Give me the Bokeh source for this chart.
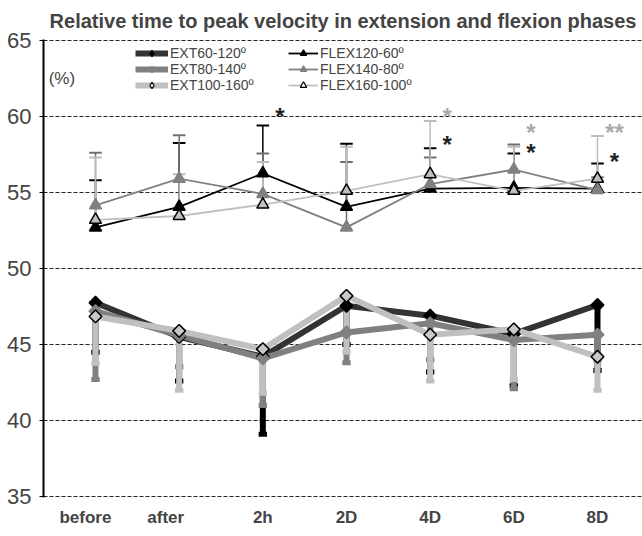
import numpy as np
from bokeh.plotting import figure
from bokeh.models import Range1d, FixedTicker, Legend, LegendItem, Label, ColumnDataSource
from bokeh.embed import file_html
from bokeh.resources import INLINE
from bokeh.core.properties import value

# ---------------- data ----------------
categories = ["before", "after", "2h", "2D", "4D", "6D", "8D"]

ext60_120 = [47.75, 45.5, 44.2, 47.55, 46.9, 45.7, 47.6]
ext60_120_low = [44.5, 42.6, 39.1, 45.0, 43.2, 42.3, 43.3]
ext80_140 = [47.2, 45.6, 44.1, 45.8, 46.4, 45.3, 45.65]
ext80_140_low = [42.7, 43.55, 41.0, 43.8, 44.0, 42.1, 44.0]
ext100_160 = [46.85, 45.9, 44.7, 48.2, 45.65, 46.0, 44.2]
ext100_160_low = [43.75, 42.0, 41.8, 44.5, 42.6, 42.7, 42.0]

flex120_60 = [52.7, 54.05, 56.25, 54.05, 55.25, 55.3, 55.25]
flex120_60_high = [55.8, 58.25, 59.4, 58.2, 57.9, 57.55, 56.9]
flex140_80 = [54.15, 55.9, 54.9, 52.7, 55.55, 56.5, 55.15]
flex140_80_high = [57.6, 58.75, 57.55, 57.0, 57.3, 58.15, 56.0]
flex160_100 = [53.2, 53.45, 54.2, 55.1, 56.2, 55.1, 55.9]
flex160_100_high = [57.3, 56.2, 57.0, 58.0, 59.7, 58.0, 58.7]

star_cat = ["2h", "4D", "4D", "6D", "6D", "8D", "8D"]
star_y = [60.2, 60.2, 58.35, 59.15, 57.85, 59.15, 57.25]
star_text = ["*", "*", "*", "*", "*", "**", "*"]
star_group = ["dark", "light", "dark", "light", "dark", "light", "dark"]

y_ticks = [35, 40, 45, 50, 55, 60, 65]
title_text = "Relative time to peak velocity in extension and flexion phases"

# ---------------- figure ----------------
FONT = "Liberation Sans"
x = np.arange(len(categories))

p = figure(width=642, height=536, output_backend="svg", toolbar_location=None,
           x_range=Range1d(-0.6215, 6.538), y_range=Range1d(34.95, 65.05),
           min_border_left=43, min_border_right=0, min_border_top=39, min_border_bottom=39)
p.outline_line_color = None
p.background_fill_color = "white"
p.border_fill_color = "white"

p.title.text = title_text
p.title.align = "center"
p.title.text_font = FONT
p.title.text_font_style = "bold"
p.title.text_font_size = "20px"
p.title.standoff = 15

# axes (labels of the first two categories sit slightly left, as in the source)
label_pos = [-0.12, 0.84, 2, 3, 4, 5, 6]
p.xaxis.ticker = FixedTicker(ticks=label_pos)
p.xaxis.major_label_overrides = {float(t): c for t, c in zip(label_pos, categories)}
p.xaxis.axis_line_color = None
p.xaxis.major_tick_line_color = None
p.xaxis.minor_tick_line_color = None
p.xaxis.major_label_text_font = FONT
p.xaxis.major_label_text_font_style = "bold"
p.xaxis.major_label_text_font_size = "17px"
p.xaxis.major_label_standoff = 4

p.yaxis.ticker = FixedTicker(ticks=y_ticks)
p.yaxis.axis_line_color = "black"
p.yaxis.axis_line_width = 2
p.yaxis.major_tick_out = 4
p.yaxis.major_tick_in = 0
p.yaxis.major_tick_line_color = "black"
p.yaxis.minor_tick_line_color = None
p.yaxis.major_label_text_font = FONT
p.yaxis.major_label_text_font_size = "22px"
p.yaxis.major_label_standoff = 8

p.xgrid.visible = False
p.ygrid.ticker = FixedTicker(ticks=y_ticks)
p.ygrid.grid_line_color = "#222222"
p.ygrid.grid_line_dash = "4 2"
p.ygrid.grid_line_width = 1

# ---------------- series ----------------
# (name, mean, sd-bound, line colour, marker fill, marker outline, bar colour, legend fill)
ext_series = [
    ("EXT60-120º", ext60_120, ext60_120_low, "#333333", "black", "black", "black", "black"),
    ("EXT80-140º", ext80_140, ext80_140_low, "#808080", "#808080", "#808080", "#808080", "#808080"),
    ("EXT100-160º", ext100_160, ext100_160_low, "#c0c0c0", "#c8c8c8", "black", "#c0c0c0", "white"),
]
flex_series = [
    ("FLEX120-60º", flex120_60, flex120_60_high, "black", "black", "black", "black", "black"),
    ("FLEX140-80º", flex140_80, flex140_80_high, "#808080", "#808080", "#808080", "#707070", "#808080"),
    ("FLEX160-100º", flex160_100, flex160_100_high, "#c0c0c0", "#c0c0c0", "black", "#bdbdbd", "white"),
]

# error bars first
for name, m, lo, lc, fc, oc, ec, lf in ext_series:
    p.segment(x, m, x, lo, line_width=6, line_color=ec, line_cap="butt")
    p.segment(x - 0.05, lo, x + 0.05, lo, line_width=5, line_color=ec, line_cap="butt")
for name, m, hi, lc, fc, oc, ec, lf in flex_series:
    p.segment(x, m, x, hi, line_width=1.5, line_color=ec)
    p.segment(x - 0.075, hi, x + 0.075, hi, line_width=2, line_color=ec)

ext_lines = []
for name, m, lo, lc, fc, oc, ec, lf in ext_series:
    ext_lines.append(p.line(x, m, line_width=6, line_color=lc, line_join="miter"))
for name, m, lo, lc, fc, oc, ec, lf in ext_series:
    p.scatter(x, m, marker="square", angle=np.pi / 4, size=9,
              fill_color=fc, line_color=oc, line_width=1.5)

flex_lines = []
for name, m, hi, lc, fc, oc, ec, lf in flex_series:
    flex_lines.append(p.line(x, m, line_width=1.8, line_color=lc, line_join="miter"))
    p.scatter(x, m, marker="triangle", size=12, fill_color=fc, line_color=oc, line_width=1.5)

# legend-only marker glyphs (a single undefined point, never visible in the plot)
ext_leg_marks = [p.scatter(x=[np.nan], y=[np.nan], marker="diamond", size=15, fill_color=s[7],
                           line_color=s[5], line_width=1.2) for s in ext_series]
flex_leg_marks = [p.scatter(x=[np.nan], y=[np.nan], marker="triangle", size=10, fill_color=s[7],
                            line_color=s[5], line_width=1.2) for s in flex_series]

# significance stars
cat_index = {c: i for i, c in enumerate(categories)}
star_colors = {"dark": "#222222", "light": "#aaaaaa"}
star_src = ColumnDataSource(dict(
    x=[cat_index[c] for c in star_cat], y=star_y, text=star_text,
    color=[star_colors[g] for g in star_group]))
p.text(x="x", y="y", text="text", source=star_src, text_color="color",
       text_font=value(FONT), text_font_style="bold", text_font_size="24px",
       text_align="center", text_baseline="alphabetic", x_offset=17, y_offset=3)

p.add_layout(Label(x=-0.56, y=62.5, text="(%)", text_font=FONT, text_font_size="17px",
                   text_baseline="middle"))

# legends
def make_legend(items, loc, gw):
    lg = Legend(items=items, location=loc, orientation="vertical")
    lg.background_fill_alpha = 0
    lg.border_line_color = None
    lg.padding = 0
    lg.margin = 0
    lg.spacing = 0
    lg.glyph_width = gw
    lg.glyph_height = 16
    lg.label_height = 16
    lg.label_standoff = 2
    lg.label_text_font = FONT
    lg.label_text_font_size = "14px"
    lg.label_text_baseline = "middle"
    return lg

leg1 = make_legend([LegendItem(label=s[0], renderers=[r, mk])
                    for s, r, mk in zip(ext_series, ext_lines, ext_leg_marks)], (92, 404), 33)
leg2 = make_legend([LegendItem(label=s[0], renderers=[r, mk])
                    for s, r, mk in zip(flex_series, flex_lines, flex_leg_marks)], (245, 404), 30)
p.add_layout(leg1)
p.add_layout(leg2)

open("out.html", "w").write(file_html(p, INLINE))
